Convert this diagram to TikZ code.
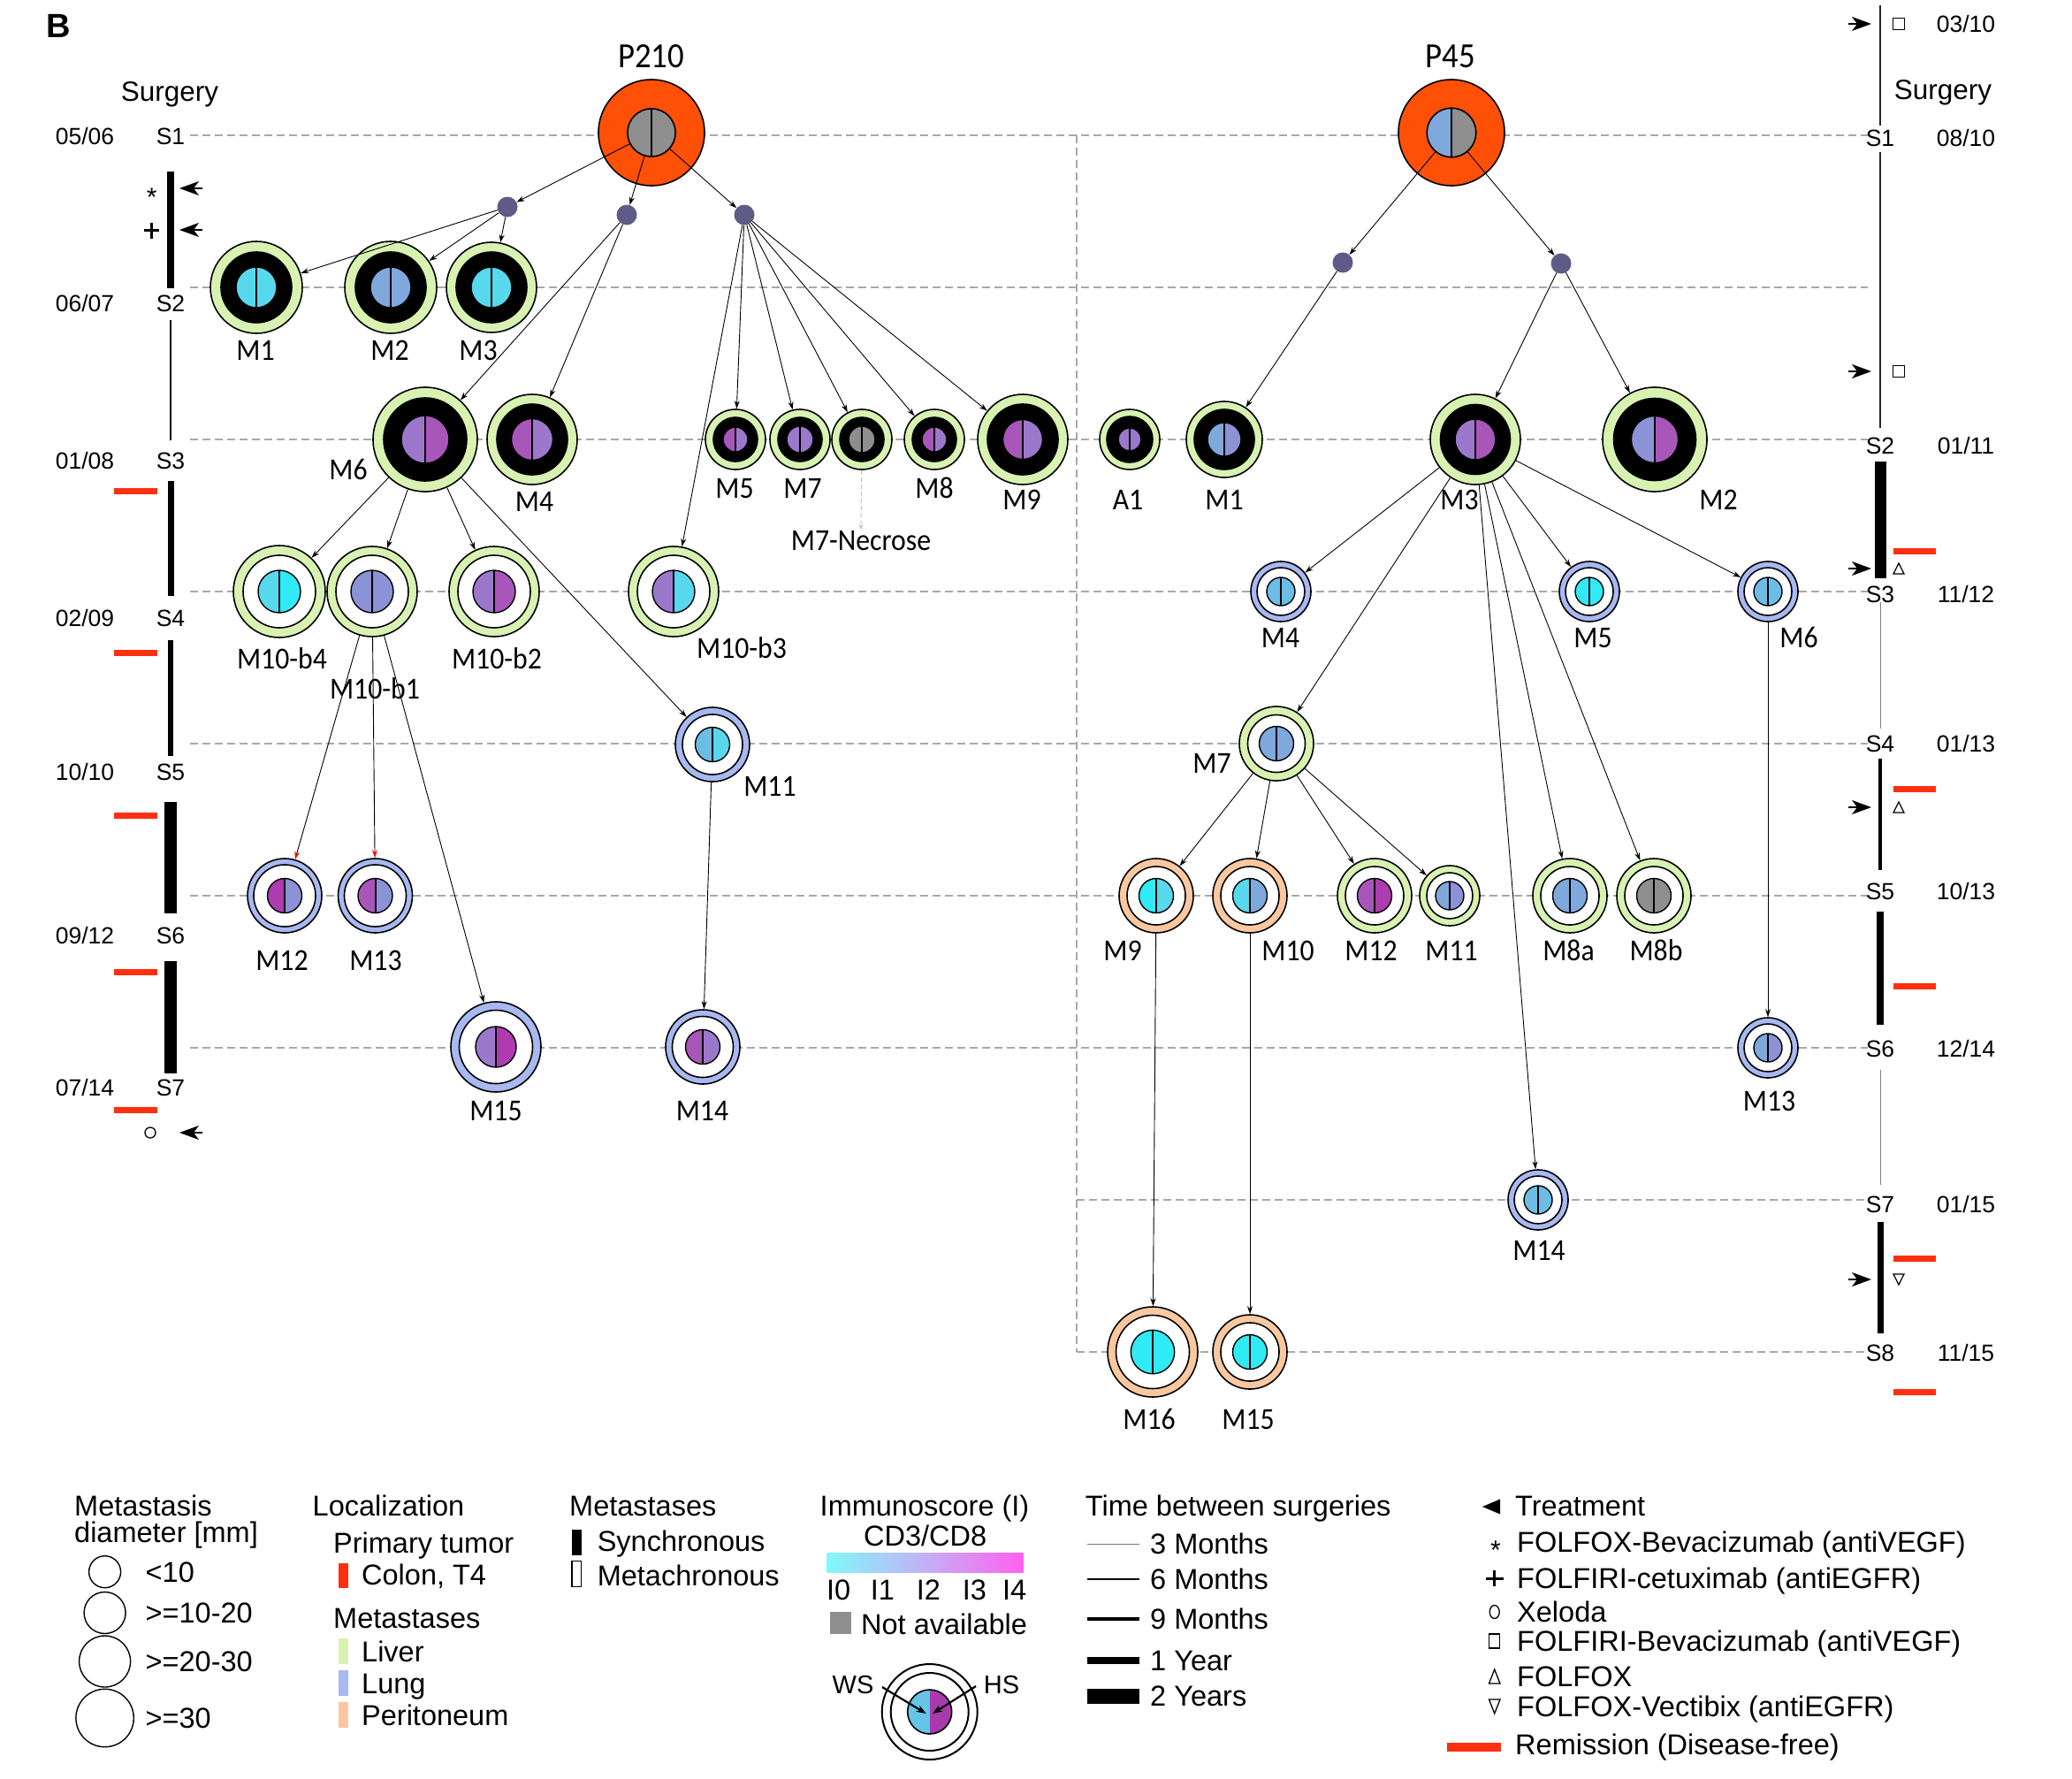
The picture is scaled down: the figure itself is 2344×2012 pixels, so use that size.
\documentclass[tikz,border=0pt]{standalone}
\usepackage{fontspec}
\setmainfont{Liberation Sans}
\newfontfamily\calfont[FakeStretch=0.92]{Carlito}
\usetikzlibrary{arrows.meta}
\definecolor{liver}{HTML}{D8F2B2}
\definecolor{lung}{HTML}{A8B8F0}
\definecolor{perit}{HTML}{FAC8A0}
\definecolor{prim}{HTML}{FF5008}
\definecolor{dotc}{HTML}{5F5A86}
\definecolor{gridc}{HTML}{A8A8A8}
\definecolor{remc}{HTML}{FF3010}
\definecolor{cy}{HTML}{58D8EC}
\definecolor{cyB}{HTML}{30EAF6}
\definecolor{bl}{HTML}{7FA8DC}
\definecolor{blB}{HTML}{6CBDE6}
\definecolor{lb}{HTML}{8C92D6}
\definecolor{lv}{HTML}{9C78CC}
\definecolor{pu}{HTML}{A856BA}
\definecolor{mg}{HTML}{AE3CB0}
\definecolor{gr}{HTML}{8E8E8E}
\definecolor{gL}{HTML}{80F8FA}
\definecolor{gM}{HTML}{C4B0F6}
\definecolor{gR}{HTML}{FF60F0}
\definecolor{wsc}{HTML}{66C4E6}
\definecolor{hsc}{HTML}{A83AAE}
\newcommand\tumornode[9]{%
  \node[circle,draw,line width=1.6pt,fill=#6,minimum size={2*#3pt},inner sep=0pt] (#1) at #2 {};
  \begin{scope}[shift={#2}]
    \draw[line width=1.6pt,fill=#7] (0,0) circle[radius=#4pt];
    \begin{scope}
      \clip (0,0) circle[radius=#5pt];
      \fill[#8] (-#5,-#5) rectangle (0,#5);
      \fill[#9] (0,-#5) rectangle (#5,#5);
    \end{scope}
    \draw[line width=1.4pt] (0,0) circle[radius=#5pt];
    \draw[line width=2pt] (0,-#5) -- (0,#5);
  \end{scope}}
\begin{document}
\begin{tikzpicture}[x=1pt,y=-1pt,
  conn/.style={line width=0.9pt,-{Stealth[length=9pt,width=6pt]}},
  redconn/.style={line width=0.9pt,-{Stealth[length=9pt,width=6pt,color=red]}},
  gridl/.style={draw=gridc,line width=1.5pt,dash pattern=on 9pt off 5pt},
  dotn/.style={circle,fill=dotc,minimum size=23pt,inner sep=0pt},
  hid/.style={circle,inner sep=0pt},
  lab/.style={font=\calfont\fontsize{34.5}{40}\selectfont,anchor=base,inner sep=0pt},
  big/.style={font=\calfont\fontsize{40}{46}\selectfont,anchor=base,inner sep=0pt},
  tl/.style={font=\fontsize{26.5}{30}\selectfont,anchor=base,inner sep=0pt},
  surg/.style={font=\fontsize{31.5}{36}\selectfont,anchor=base,inner sep=0pt},
  leg/.style={font=\fontsize{32.5}{36}\selectfont,anchor=base west,inner sep=0pt},
  legc/.style={font=\fontsize{32.5}{36}\selectfont,anchor=base,inner sep=0pt},
  tarrL/.style={line width=1.5pt,-{Stealth[length=22pt,width=16pt,inset=6pt]}},
  nec/.style={draw=gridc!70,line width=1pt,dash pattern=on 5pt off 3pt,-{Stealth[length=7pt,width=5pt]}}
]
\useasboundingbox (0,0) rectangle (2344,2012);
\node[font=\bfseries\fontsize{38}{42}\selectfont,anchor=base west,inner sep=0pt] (figB) at (52,43) {B};

% ---------- grid lines ----------
\foreach \yy in {153,325,497,669,841,1013,1185} {\draw[gridl] (215,\yy) -- (2113,\yy);}
\foreach \yy in {1357,1529} {\draw[gridl] (1218,\yy) -- (2113,\yy);}
\draw[gridl] (1218,153) -- (1218,1529);

% ---------- left timeline ----------
\node[surg] (surgL) at (192,114.3) {Surgery};
\foreach \s/\d/\yy in {S1/05\slash06/153.7,S2/06\slash07/343,S3/01\slash08/521,S4/02\slash09/699,S5/10\slash10/873,S6/09\slash12/1058,S7/07\slash14/1230}{
  \node[tl] (L\s) at (193,\yy+9.5) {\s};
  \node[tl] (LD\s) at (96,\yy+9.5) {\d};}
\draw[line width=7.3pt] (193,194) -- (193,326);
\draw[line width=2pt] (193,362) -- (193,498);
\draw[line width=7pt] (193,544) -- (193,674);
\draw[line width=6.5pt] (193,724) -- (193,855);
\draw[line width=14pt] (193,907) -- (193,1033);
\draw[line width=14pt] (193,1087) -- (193,1214);
\foreach \yy in {555,738,922,1099,1255} {\fill[remc] (129,\yy-3.5) rectangle (178,\yy+3.5);}
\node[font=\fontsize{30}{32}\selectfont,inner sep=0pt] (astL) at (171.7,223) {*};
\draw[line width=2.8pt] (163,260.7) -- (180,260.7) (171.5,252) -- (171.5,269.5);
\draw[line width=1.3pt] (170,1281) circle[radius=6pt];
\coordinate (ta1) at (229,213); \coordinate (tb1) at (203,213);
\coordinate (ta2) at (229,260); \coordinate (tb2) at (203,260);
\coordinate (ta3) at (229,1281); \coordinate (tb3) at (203,1281);
\draw[tarrL] (ta1) -- (tb1);
\draw[tarrL] (ta2) -- (tb2);
\draw[tarrL] (ta3) -- (tb3);

% ---------- right timeline ----------
\node[surg] (surgR) at (2198,113) {Surgery};
\node[tl] (RD0) at (2224,36.5) {03/10};
\foreach \s/\d/\yy in {S1/08\slash10/156,S2/01\slash11/504,S3/11\slash12/672,S4/01\slash13/841,S5/10\slash13/1008,S6/12\slash14/1186,S7/01\slash15/1362,S8/11\slash15/1530}{
  \node[tl] (R\s) at (2127,\yy+9.5) {\s};
  \node[tl] (RD\s) at (2224,\yy+9.5) {\d};}
\draw[line width=2pt,draw=black!85] (2127,6) -- (2127,142);
\draw[line width=2pt,draw=black!85] (2127,172) -- (2127,484);
\draw[line width=13pt] (2127,522) -- (2127,654);
\draw[line width=1pt,draw=black!50] (2127,681) -- (2127,824);
\draw[line width=4pt] (2127,858) -- (2127,984);
\draw[line width=8.5pt] (2127,1031) -- (2127,1159);
\draw[line width=1pt,draw=black!50] (2127,1210) -- (2127,1340);
\draw[line width=7pt] (2127,1382) -- (2127,1508);
\foreach \yy in {623,892,1115,1423,1574} {\fill[remc] (2142,\yy-3.5) rectangle (2190,\yy+3.5);}
\foreach \yy [count=\i] in {27,420,643,913,1447} {
  \coordinate (ra\i) at (2091,\yy); \coordinate (rb\i) at (2117,\yy);
  \draw[tarrL] (ra\i) -- (rb\i);}
\draw[line width=1.3pt] (2141.5,20.5) rectangle (2154.5,33.5);
\draw[line width=1.3pt] (2141.5,413.5) rectangle (2154.5,426.5);
\draw[line width=1.2pt] (2142,649) -- (2154,649) -- (2148,637) -- cycle;
\draw[line width=1.2pt] (2142,919) -- (2154,919) -- (2148,907) -- cycle;
\draw[line width=1.2pt] (2142,1441) -- (2154,1441) -- (2148,1453) -- cycle;

% ---------- P210 tree ----------
\tumornode{P210}{(737,150)}{60}{27}{27}{prim}{prim}{gr}{gr}
\node[hid,minimum size=54pt] (P210i) at (737,150) {};
\node[dotn] (d1) at (574,234) {};
\node[dotn] (d2) at (709,243) {};
\node[dotn] (d3) at (842,243) {};
\tumornode{aM1}{(290,325)}{52}{40}{23}{liver}{black}{cy}{cy}
\tumornode{aM2}{(442,325)}{52}{40}{23}{liver}{black}{bl}{bl}
\tumornode{aM3}{(556,325)}{51}{40}{23}{liver}{black}{cy}{cy}
\tumornode{aM6}{(481,497)}{59}{47}{27}{liver}{black}{lv}{pu}
\tumornode{aM4}{(602,497)}{51}{40}{23.5}{liver}{black}{pu}{lv}
\tumornode{aM5}{(832,497)}{34}{25}{14}{liver}{black}{pu}{lv}
\tumornode{aM7}{(905,497)}{34}{25}{15}{liver}{black}{lv}{lv}
\tumornode{aM7N}{(975,497)}{34}{25}{15}{liver}{black}{gr}{gr}
\tumornode{aM8}{(1057,497)}{34}{25}{14}{liver}{black}{pu}{lv}
\tumornode{aM9}{(1157,497)}{51}{40}{22.5}{liver}{black}{pu}{lv}
\tumornode{aB4}{(316,669)}{52}{41}{24}{liver}{white}{cy}{cyB}
\tumornode{aB1}{(421,669)}{51}{41}{24}{liver}{white}{lb}{lb}
\tumornode{aB2}{(559,669)}{51}{41}{24}{liver}{white}{lv}{pu}
\tumornode{aB3}{(762,669)}{51}{41}{24}{liver}{white}{lv}{cy}
\tumornode{aM11}{(806,842)}{42}{34}{19.5}{lung}{white}{blB}{cy}
\tumornode{aM12}{(322,1013)}{42}{35}{19.5}{lung}{white}{mg}{lb}
\tumornode{aM13}{(424.5,1013)}{42}{35}{19.5}{lung}{white}{pu}{lb}
\tumornode{aM15}{(561,1184)}{51}{41.5}{23}{lung}{white}{lv}{mg}
\tumornode{aM14}{(795,1184)}{42}{34.5}{19.5}{lung}{white}{pu}{lv}

% ---------- P45 tree ----------
\tumornode{P45}{(1642,150)}{60}{27.7}{27.7}{prim}{prim}{bl}{gr}
\node[hid,minimum size=55.4pt] (P45i) at (1642,150) {};
\node[dotn] (d4) at (1519,297) {};
\node[dotn] (d5) at (1766,298) {};
\tumornode{bA1}{(1278,497)}{34}{26}{13}{liver}{black}{lv}{lv}
\tumornode{bM1}{(1385,497)}{43}{34}{19}{liver}{black}{bl}{lb}
\tumornode{bM3}{(1669,497)}{51}{39.5}{23}{liver}{black}{lv}{pu}
\tumornode{bM2}{(1872,497)}{59}{46.5}{26.6}{liver}{black}{lb}{pu}
\tumornode{bM4}{(1449,669)}{34}{27}{16}{lung}{white}{blB}{blB}
\tumornode{bM5}{(1798,669)}{34}{27}{16}{lung}{white}{cyB}{cyB}
\tumornode{bM6}{(2000,669)}{34}{27}{16}{lung}{white}{blB}{blB}
\tumornode{bM7}{(1444,841)}{42}{32.5}{19.5}{liver}{white}{bl}{bl}
\tumornode{bM9}{(1308,1013)}{42}{33}{19.5}{perit}{white}{cyB}{cy}
\tumornode{bM10}{(1414,1013)}{42}{33}{19.5}{perit}{white}{cy}{bl}
\tumornode{bM12}{(1555,1013)}{42}{33}{19.5}{liver}{white}{pu}{mg}
\tumornode{bM11}{(1640,1013)}{34}{26}{16}{liver}{white}{bl}{lb}
\tumornode{bM8a}{(1776,1013)}{42}{33}{19.5}{liver}{white}{bl}{bl}
\tumornode{bM8b}{(1871,1013)}{42}{33}{19.5}{liver}{white}{gr}{gr}
\tumornode{bM13}{(2000,1185)}{34}{27}{16}{lung}{white}{bl}{lb}
\tumornode{bM14}{(1740,1357)}{34}{27}{16}{lung}{white}{blB}{blB}
\tumornode{bM16}{(1304,1529)}{51}{41.5}{24.7}{perit}{white}{cyB}{cyB}
\tumornode{bM15}{(1414,1529)}{42}{33}{19.5}{perit}{white}{cyB}{cyB}

% ---------- labels ----------
\node[big] (lP210) at (736.5,76.6) {P210};
\node[big] (lP45) at (1640.6,76.6) {P45};
\node[lab] (laM1) at (289,407) {M1};
\node[lab] (laM2) at (441,407) {M2};
\node[lab] (laM3) at (541,407) {M3};
\node[lab] (laM6) at (394,542) {M6};
\node[lab] (laM4) at (604.5,578) {M4};
\node[lab] (laM5) at (831,563) {M5};
\node[lab] (laM7) at (908,563) {M7};
\node[lab] (laM8) at (1057,563) {M8};
\node[lab] (laM9) at (1156,576) {M9};
\node[lab] (lbA1) at (1276,576) {A1};
\node[lab] (lbM1) at (1385,576) {M1};
\node[lab] (laM7N) at (974,622) {M7-Necrose};
\node[lab] (laB4) at (319,756) {M10-b4};
\node[lab] (laB1) at (424,790) {M10-b1};
\node[lab] (laB2) at (562,756) {M10-b2};
\node[lab] (laB3) at (839,744) {M10-b3};
\node[lab] (laM11) at (871,900) {M11};
\node[lab] (laM12) at (319,1097) {M12};
\node[lab] (laM13) at (425,1097) {M13};
\node[lab] (laM15) at (561,1267) {M15};
\node[lab] (laM14) at (794.5,1267) {M14};
\node[lab] (lbM3) at (1651,576) {M3};
\node[lab] (lbM2) at (1944,576) {M2};
\node[lab] (lbM4) at (1448.5,732) {M4};
\node[lab] (lbM5) at (1802,732) {M5};
\node[lab] (lbM6) at (2035,732) {M6};
\node[lab] (lbM7) at (1371,874) {M7};
\node[lab] (lbM9) at (1270,1086) {M9};
\node[lab] (lbM10) at (1457,1086) {M10};
\node[lab] (lbM12) at (1551,1086) {M12};
\node[lab] (lbM11) at (1642,1086) {M11};
\node[lab] (lbM8a) at (1774.5,1086) {M8a};
\node[lab] (lbM8b) at (1873.5,1086) {M8b};
\node[lab] (lbM13) at (2001.5,1256) {M13};
\node[lab] (lbM14) at (1741,1425) {M14};
\node[lab] (lbM16) at (1300,1616) {M16};
\node[lab] (lbM15) at (1412,1616) {M15};

% ---------- connectors ----------
\draw[conn] (P210i) -- (d1);
\draw[conn] (P210i) -- (d2);
\draw[conn] (P210i) -- (d3);
\draw[conn] (d1) -- (aM1);
\draw[conn] (d1) -- (aM2);
\draw[conn] (d1) -- (aM3);
\draw[conn] (d2) -- (aM6);
\draw[conn] (d2) -- (aM4);
\draw[conn] (d3) -- (aB3);
\draw[conn] (d3) -- (aM5);
\draw[conn] (d3) -- (aM7);
\draw[conn] (d3) -- (aM7N);
\draw[conn] (d3) -- (aM8);
\draw[conn] (d3) -- (aM9);
\draw[conn] (aM6) -- (aB4);
\draw[conn] (aM6) -- (aB1);
\draw[conn] (aM6) -- (aB2);
\draw[conn] (aM6) -- (aM11);
\draw[redconn] (aB1) -- (aM12);
\draw[redconn] (aB1) -- (aM13);
\draw[conn] (aB1) -- (aM15);
\draw[conn] (aM11) -- (aM14);
\draw[nec] (aM7N) -- (laM7N.north);
\draw[conn] (P45i) -- (d4);
\draw[conn] (P45i) -- (d5);
\draw[conn] (d4) -- (bM1);
\draw[conn] (d5) -- (bM3);
\draw[conn] (d5) -- (bM2);
\draw[conn] (bM3) -- (bM4);
\draw[conn] (bM3) -- (bM7);
\draw[conn] (bM3) -- (bM14);
\draw[conn] (bM3) -- (bM8a);
\draw[conn] (bM3) -- (bM8b);
\draw[conn] (bM3) -- (bM5);
\draw[conn] (bM3) -- (bM6);
\draw[conn] (bM7) -- (bM9);
\draw[conn] (bM7) -- (bM10);
\draw[conn] (bM7) -- (bM12);
\draw[conn] (bM7) -- (bM11);
\draw[conn] (bM9) -- (bM16);
\draw[conn] (bM10) -- (bM15);
\draw[conn] (bM6) -- (bM13);

% ---------- legend ----------
\node[leg] (g1a) at (84,1714.5) {Metastasis};
\node[leg] (g1b) at (84,1744.5) {diameter [mm]};
\draw[line width=1.4pt] (118.6,1777.7) circle[radius=18pt];
\draw[line width=1.4pt] (118.6,1824) circle[radius=23.5pt];
\draw[line width=1.4pt] (118.6,1879) circle[radius=29pt];
\draw[line width=1.4pt] (118.6,1943) circle[radius=32.7pt];
\node[leg] (g1c) at (164.5,1789.2) {<10};
\node[leg] (g1d) at (164.5,1835.5) {>=10-20};
\node[leg] (g1e) at (164.5,1890.5) {>=20-30};
\node[leg] (g1f) at (164.5,1954.5) {>=30};

\node[leg] (g2a) at (353.5,1714.5) {Localization};
\node[leg] (g2b) at (377,1756.5) {Primary tumor};
\fill[remc] (382.5,1768) rectangle (394,1796);
\node[leg] (g2c) at (409,1792.5) {Colon, T4};
\node[leg] (g2d) at (377,1841.5) {Metastases};
\fill[liver] (382.5,1853) rectangle (394,1882);
\node[leg] (g2e) at (409,1879.5) {Liver};
\fill[lung] (382.5,1889) rectangle (394,1918);
\node[leg] (g2f) at (409,1915.5) {Lung};
\fill[perit] (382.5,1925) rectangle (394,1954);
\node[leg] (g2g) at (409,1951.5) {Peritoneum};

\node[leg] (g3a) at (644,1714.5) {Metastases};
\fill[black] (646.5,1730) rectangle (658,1759);
\node[leg] (g3b) at (675.6,1754.5) {Synchronous};
\draw[line width=1.2pt] (647,1765.5) rectangle (657.5,1794.5);
\node[leg] (g3c) at (675.6,1793) {Metachronous};

\node[legc] (g4a) at (1046,1714.5) {Immunoscore (I)};
\node[legc] (g4b) at (1046.7,1748.5) {CD3/CD8};
\shade[left color=gL,right color=gR,middle color=gM] (935.7,1756) rectangle (1157.6,1778.7);
\foreach \xx/\t in {948.7/I0,998.5/I1,1050.5/I2,1102.5/I3,1147.6/I4} {\node[legc] at (\xx,1809.5) {\t};}
\fill[gr] (938.8,1823) rectangle (962.5,1848);
\node[leg] (g4c) at (974,1848.5) {Not available};
\begin{scope}
  \clip (1051.7,1936) circle[radius=25pt];
  \fill[wsc] (1026,1910) rectangle (1051.7,1962);
  \fill[hsc] (1051.7,1910) rectangle (1078,1962);
\end{scope}
\draw[line width=1.6pt] (1051.7,1936) circle[radius=25pt];
\draw[line width=2pt] (1051.7,1936) circle[radius=44pt];
\draw[line width=2pt] (1051.7,1936) circle[radius=54pt];
\node[font=\fontsize{29}{30}\selectfont,anchor=base,inner sep=0pt] (gWS) at (965,1915) {WS};
\node[font=\fontsize{29}{30}\selectfont,anchor=base,inner sep=0pt] (gHS) at (1133,1915) {HS};
\coordinate (wsA) at (998,1908); \coordinate (wsB) at (1047.7,1938);
\coordinate (hsA) at (1104,1907); \coordinate (hsB) at (1055,1938);
\draw[line width=2.2pt,-{Stealth[length=11pt,width=8pt]}] (wsA) -- (wsB);
\draw[line width=2.2pt,-{Stealth[length=11pt,width=8pt]}] (hsA) -- (hsB);

\node[leg] (g5a) at (1227.7,1714.5) {Time between surgeries};
\draw[line width=1pt,draw=black!55] (1230,1746) -- (1289.4,1746);
\draw[line width=2pt] (1230,1786) -- (1289.4,1786);
\draw[line width=4pt] (1230,1831) -- (1289.4,1831);
\draw[line width=8.7pt] (1230,1878) -- (1289.4,1878);
\draw[line width=17pt] (1230,1918) -- (1289.4,1918);
\node[leg] (g5b) at (1301,1757.5) {3 Months};
\node[leg] (g5c) at (1301,1797.5) {6 Months};
\node[leg] (g5d) at (1301,1842.5) {9 Months};
\node[leg] (g5e) at (1301,1889.5) {1 Year};
\node[leg] (g5f) at (1301,1929.5) {2 Years};

\fill (1677,1704) -- (1697,1695.5) -- (1697,1712.5) -- cycle;
\node[leg] (g6a) at (1714,1714.5) {Treatment};
\node[font=\fontsize{30}{32}\selectfont,inner sep=0pt] (g6s1) at (1692,1753) {*};
\draw[line width=3pt] (1680.5,1785) -- (1701,1785) (1690.7,1776) -- (1690.7,1794);
\draw[line width=1.3pt] (1690.7,1823) ellipse[x radius=5.5pt,y radius=7.5pt];
\draw[line width=1.3pt] (1684.7,1848) rectangle (1696.7,1864);
\draw[line width=1.3pt] (1684.5,1904) -- (1697,1904) -- (1690.7,1888) -- cycle;
\draw[line width=1.3pt] (1684.5,1922) -- (1697,1922) -- (1690.7,1938) -- cycle;
\node[leg] (g6b) at (1716,1755.5) {FOLFOX-Bevacizumab (antiVEGF)};
\node[leg] (g6c) at (1716,1796.5) {FOLFIRI-cetuximab (antiEGFR)};
\node[leg] (g6d) at (1716,1834.5) {Xeloda};
\node[leg] (g6e) at (1716,1867.5) {FOLFIRI-Bevacizumab (antiVEGF)};
\node[leg] (g6f) at (1716,1907.5) {FOLFOX};
\node[leg] (g6g) at (1716,1941.5) {FOLFOX-Vectibix (antiEGFR)};
\fill[remc] (1637.4,1971) rectangle (1698,1981);
\node[leg] (g6h) at (1714,1984.5) {Remission (Disease-free)};
\end{tikzpicture}
\end{document}
